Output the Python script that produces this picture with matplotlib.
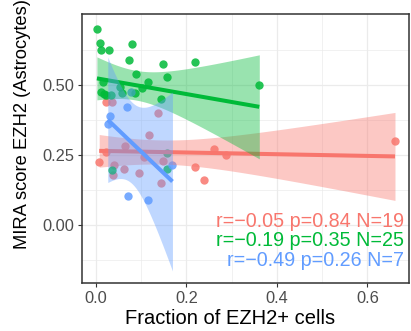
import numpy as np
import matplotlib
matplotlib.use("Agg")
import matplotlib.pyplot as plt

plt.rcParams['font.family'] = ['Liberation Sans', 'DejaVu Sans']

# --- data ---
red_x = [0.021, 0.035, 0.136, 0.117, 0.064, 0.022, 0.107, 0.147, 0.007, 0.040,
         0.062, 0.038, 0.096, 0.219, 0.239, 0.144, 0.261, 0.287, 0.661]
red_y = [0.440, 0.440, 0.399, 0.321, 0.283, 0.262, 0.244, 0.230, 0.224, 0.214,
         0.200, 0.179, 0.185, 0.208, 0.161, 0.149, 0.270, 0.250, 0.299]

green_x = [0.002, 0.008, 0.012, 0.029, 0.079, 0.074, 0.148, 0.089, 0.157, 0.015,
           0.115, 0.054, 0.102, 0.011, 0.057, 0.087, 0.021, 0.034, 0.144, 0.219,
           0.361, 0.156, 0.036, 0.158, 0.018]
green_y = [0.702, 0.649, 0.627, 0.627, 0.648, 0.590, 0.577, 0.538, 0.530, 0.512,
           0.512, 0.494, 0.488, 0.474, 0.473, 0.470, 0.464, 0.464, 0.452, 0.583,
           0.500, 0.256, 0.196, 0.202, 0.468]

blue_x = [0.068, 0.031, 0.026, 0.169, 0.071, 0.114, 0.078]
blue_y = [0.420, 0.390, 0.360, 0.214, 0.105, 0.089, 0.476]

labels = ["r=\u22120.05 p=0.84 N=19",
          "r=\u22120.19 p=0.35 N=25",
          "r=\u22120.49 p=0.26 N=7"]
t_crit = [2.110, 2.069, 2.571]  # 95% t quantiles for df = N-2

colors = ["#F8766D", "#00BA38", "#619CFF"]

xticks = [0.0, 0.2, 0.4, 0.6]
xticklabels = ["0.0", "0.2", "0.4", "0.6"]
yticks = [0.00, 0.25, 0.50]
yticklabels = ["0.00", "0.25", "0.50"]

fig = plt.figure(figsize=(4.11, 3.31), dpi=100)
ax = fig.add_axes([82/411, 1-283/331, (409-82)/411, (283-14)/331])

groups = [(red_x, red_y), (green_x, green_y), (blue_x, blue_y)]

for (gx, gy), c in zip(groups, colors):
    ax.scatter(gx, gy, s=36, color=c, alpha=0.85, linewidths=0, zorder=2)

for (gx, gy), c, t in zip(groups, colors, t_crit):
    x = np.asarray(gx); y = np.asarray(gy)
    n = len(x)
    b, a = np.polyfit(x, y, 1)
    xs = np.linspace(x.min(), x.max(), 80)
    yh = a + b * xs
    resid = y - (a + b * x)
    s = np.sqrt(np.sum(resid**2) / (n - 2))
    se = s * np.sqrt(1/n + (xs - x.mean())**2 / np.sum((x - x.mean())**2))
    ax.fill_between(xs, yh - t*se, yh + t*se, color=c, alpha=0.4, linewidth=0, zorder=3)
    ax.plot(xs, yh, color=c, lw=2.9, zorder=3, solid_capstyle='butt')

for i, (lab, c) in enumerate(zip(labels, colors)):
    ax.text(0.681, 0.0125 - i*0.069, lab, color=c, fontsize=14.2,
            ha='right', va='center', zorder=5)

ax.set_xlim(-0.031, 0.692)
ax.set_ylim(-0.207, 0.754)
ax.set_xticks(xticks)
ax.set_xticklabels(xticklabels)
ax.set_yticks(yticks)
ax.set_yticklabels(yticklabels)
ax.set_xticks([0.1, 0.3, 0.5], minor=True)
ax.set_yticks([-0.125, 0.125, 0.375, 0.625], minor=True)
ax.grid(True, which='major', color='#EBEBEB', lw=0.9, zorder=0)
ax.grid(True, which='minor', color='#EBEBEB', lw=0.5, zorder=0)
ax.set_axisbelow(True)
ax.tick_params(which='minor', length=0)
ax.tick_params(which='major', length=3, color='#333333', labelcolor='#4D4D4D',
               labelsize=11.8, pad=2.5)
for sp in ax.spines.values():
    sp.set_color('#333333')
    sp.set_linewidth(1.1)

fig.text(230/411, 1-319/331, "Fraction of EZH2+ cells", fontsize=14.5,
         ha='center', va='center')
fig.text(23/411, 1-124/331, "MIRA score EZH2 (Astrocytes)", fontsize=13.2,
         ha='center', va='center', rotation=90)

fig.savefig("out.png", dpi=100)
